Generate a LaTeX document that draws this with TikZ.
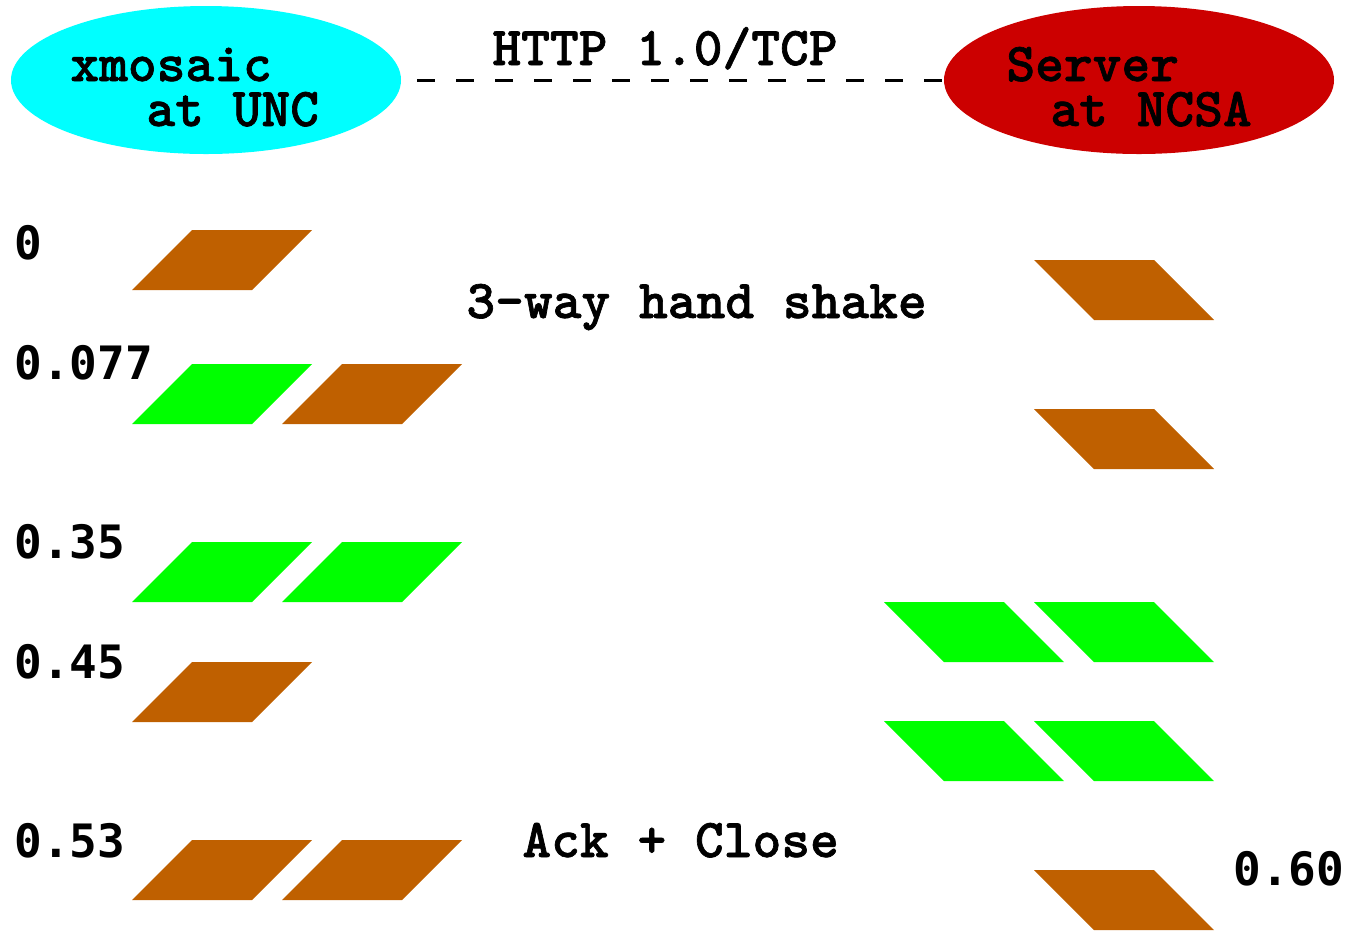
\documentclass[tikz,border=0pt]{standalone}
\usepackage{fontspec}
\newfontfamily\numfont{DejaVu Sans Mono}
\newfontfamily\courfont{lmmonolt10-bold.otf}[FakeBold=1.2]
\usetikzlibrary{shapes.geometric}
\definecolor{clientcyan}{RGB}{0,255,255}
\definecolor{serverred}{RGB}{204,0,0}
\definecolor{pktbrown}{RGB}{191,96,0}
\definecolor{pktgreen}{RGB}{0,255,0}

\begin{document}
\begin{tikzpicture}[x=0.5pt,y=-0.5pt]
\tikzstyle{host}=[ellipse,minimum width=195pt,minimum height=74pt,inner sep=0pt]
\tikzstyle{txt}=[anchor=base west,inner sep=0pt,font=\fontsize{27.4}{22.5}\selectfont\courfont]
\tikzstyle{num}=[anchor=base west,inner sep=0pt,font=\fontsize{23}{28}\selectfont\numfont\bfseries]
\tikzstyle{link}=[line width=1.5pt,dash pattern=on 9pt off 10.5pt]
\useasboundingbox (0,0) rectangle (1348,934);
% hosts
\node[host,fill=clientcyan] (unc) at (206,80) {};
\node[host,fill=serverred] (ncsa) at (1139,80) {};
\node[txt,align=left] (uncname) at (70,126) {xmosaic\\\hspace*{38pt}at UNC};
\node[txt,align=left] (ncsaname) at (1006,126) {Server\\\hspace*{22pt}at NCSA};
\draw[link] ([xshift=8pt]unc.east) -- ([xshift=6pt]ncsa.west);
\node[txt] (proto) at (492,65) {HTTP 1.0/TCP};
% packets sent by the client
\foreach \x/\y/\c in {132/290/pktbrown,132/424/pktgreen,282/424/pktbrown,
  132/602/pktgreen,282/602/pktgreen,132/722/pktbrown,132/900/pktbrown,282/900/pktbrown}
  \fill[\c] (\x,\y) -- ++(120,0) -- ++(60,-60) -- ++(-120,0) -- cycle;
% packets sent by the server
\foreach \x/\y/\c in {1034/260/pktbrown,1034/409/pktbrown,884/602/pktgreen,1034/602/pktgreen,
  884/721/pktgreen,1034/721/pktgreen,1034/870/pktbrown}
  \fill[\c] (\x,\y) -- ++(120,0) -- ++(60,60) -- ++(-120,0) -- cycle;
% times
\node[num] (t0) at (14,259) {0};
\node[num] (t1) at (14,379) {0.077};
\node[num] (t2) at (14,558) {0.35};
\node[num] (t3) at (14,678) {0.45};
\node[num] (t4) at (14,857) {0.53};
\node[num] (t5) at (1233,885) {0.60};
\node[txt] (shake) at (466,318) {3-way hand shake};
\node[txt] (close) at (522,857) {Ack + Close};
\end{tikzpicture}
\end{document}
